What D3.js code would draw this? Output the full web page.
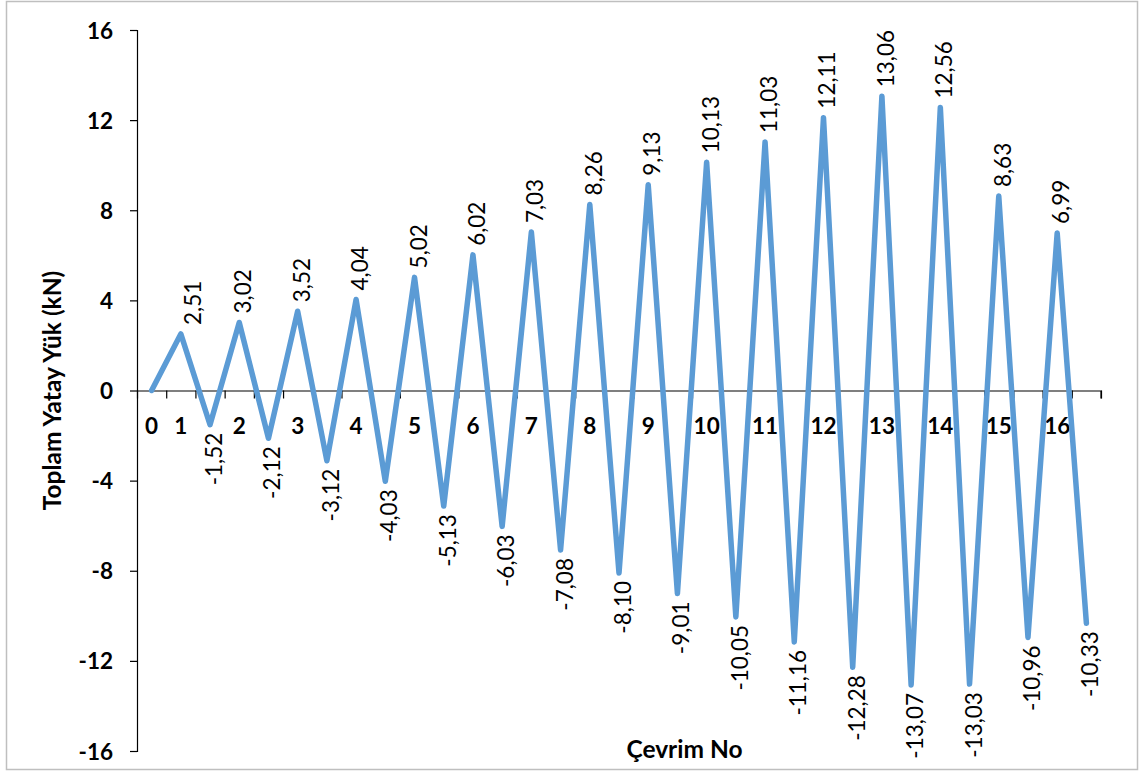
<!DOCTYPE html>
<html>
<head>
<meta charset="utf-8">
<script src="https://cdn.jsdelivr.net/npm/d3@7"></script>
<style>
html,body{margin:0;padding:0;background:#fff;}
svg{display:block;}
</style>
</head>
<body>
<svg id="chart" width="1140" height="771"></svg>
<script>
// ---- data ----
const categories = ["0","1","","2","","3","","4","","5","","6","","7","","8","","9","","10","","11","","12","","13","","14","","15","","16",""];
const values = [0, 2.51, -1.52, 3.02, -2.12, 3.52, -3.12, 4.04, -4.03, 5.02, -5.13, 6.02, -6.03, 7.03, -7.08, 8.26, -8.10, 9.13, -9.01, 10.13, -10.05, 11.03, -11.16, 12.11, -12.28, 13.06, -13.07, 12.56, -13.03, 8.63, -10.96, 6.99, -10.33];
const yTicks = [-16, -12, -8, -4, 0, 4, 8, 12, 16];
const yTitle = "Toplam Yatay Yük (kN)";
const xTitle = "Çevrim No";

// ---- layout ----
const plot = {left: 137, right: 1101, top: 30, bottom: 751};
const svg = d3.select("#chart");
const FONT = "Lato, 'Open Sans', sans-serif";

svg.append("rect").attr("x", 6.5).attr("y", 1.5).attr("width", 1131).attr("height", 768)
  .attr("fill", "#fff").attr("stroke", "#bfbfbf").attr("stroke-width", 1.5);

const x = d3.scaleBand().domain(d3.range(values.length)).range([plot.left, plot.right]).paddingInner(0).paddingOuter(0);
const xb = d3.scaleLinear().domain([0, values.length]).range([plot.left, plot.right]);
const y = d3.scaleLinear().domain([-16, 16]).range([plot.bottom, plot.top]);
const cx = i => x(i) + x.bandwidth() / 2;
const hy = s => String(s).replace("\u2212", "-");

// y axis
const yAxis = svg.append("g").attr("transform", `translate(${plot.left},0)`)
  .call(d3.axisLeft(y).tickValues(yTicks).tickSize(7).tickPadding(17).tickFormat(d => hy(d3.format("d")(d))));
yAxis.select(".domain").attr("stroke", "#000").attr("stroke-width", 1.2).attr("d", `M-7,${y(16)+0.5}H0.5V${y(-16)+0.5}H-7`);
yAxis.selectAll(".tick line").attr("stroke", "#000").attr("stroke-width", 1.2);
yAxis.selectAll(".tick text").attr("font-family", FONT).attr("font-weight", "bold").attr("font-size", 22.5).attr("fill", "#000").attr("dy", "0.36em");

// x axis (at y=0)
const xAxis = svg.append("g").attr("transform", `translate(0,${y(0)})`)
  .call(d3.axisBottom(xb).tickValues(d3.range(values.length + 1)).tickSize(8).tickFormat(""));
xAxis.select(".domain").attr("stroke", "#000").attr("stroke-width", 1.2).attr("d", `M${plot.left},0.5H${plot.right}V8`);
xAxis.selectAll(".tick line").attr("stroke", "#000").attr("stroke-width", 1.2);

// category labels
svg.append("g").selectAll("text").data(categories).join("text")
  .attr("x", (d, i) => cx(i)).attr("y", y(0) + 43)
  .attr("text-anchor", "middle").attr("font-family", FONT).attr("font-weight", "bold")
  .attr("font-size", 22.5).attr("fill", "#000").text(d => d);

// line
const line = d3.line().x((d, i) => cx(i)).y(d => y(d));
svg.append("path").datum(values).attr("d", line).attr("fill", "none")
  .attr("stroke", "#5b9bd5").attr("stroke-width", 5.5)
  .attr("stroke-linejoin", "round").attr("stroke-linecap", "round");

// data labels
const fmt = v => hy(d3.format(".2f")(v)).replace(".", ",");
svg.append("g").selectAll("text").data(values.slice(1)).join("text")
  .attr("transform", (d, j) => {
    const i = j + 1;
    const px = cx(i) + (i === 1 ? 20 : 12);
    const py = d >= 0 ? y(d) - 9 : y(d) + 8;
    return `translate(${px},${py}) rotate(-90)`;
  })
  .attr("text-anchor", d => d >= 0 ? "start" : "end")
  .attr("font-family", FONT).attr("font-size", 22.5).attr("fill", "#000")
  .text(d => fmt(d));

// axis titles
svg.append("text").attr("transform", `translate(61,${(plot.top + plot.bottom) / 2}) rotate(-90)`)
  .attr("text-anchor", "middle").attr("font-family", FONT).attr("font-weight", "bold")
  .attr("font-size", 24.5).attr("fill", "#000").text(yTitle);
svg.append("text").attr("x", 684.5).attr("y", 758)
  .attr("text-anchor", "middle").attr("font-family", FONT).attr("font-weight", "bold")
  .attr("font-size", 24.5).attr("fill", "#000").text(xTitle);
</script>
</body>
</html>
